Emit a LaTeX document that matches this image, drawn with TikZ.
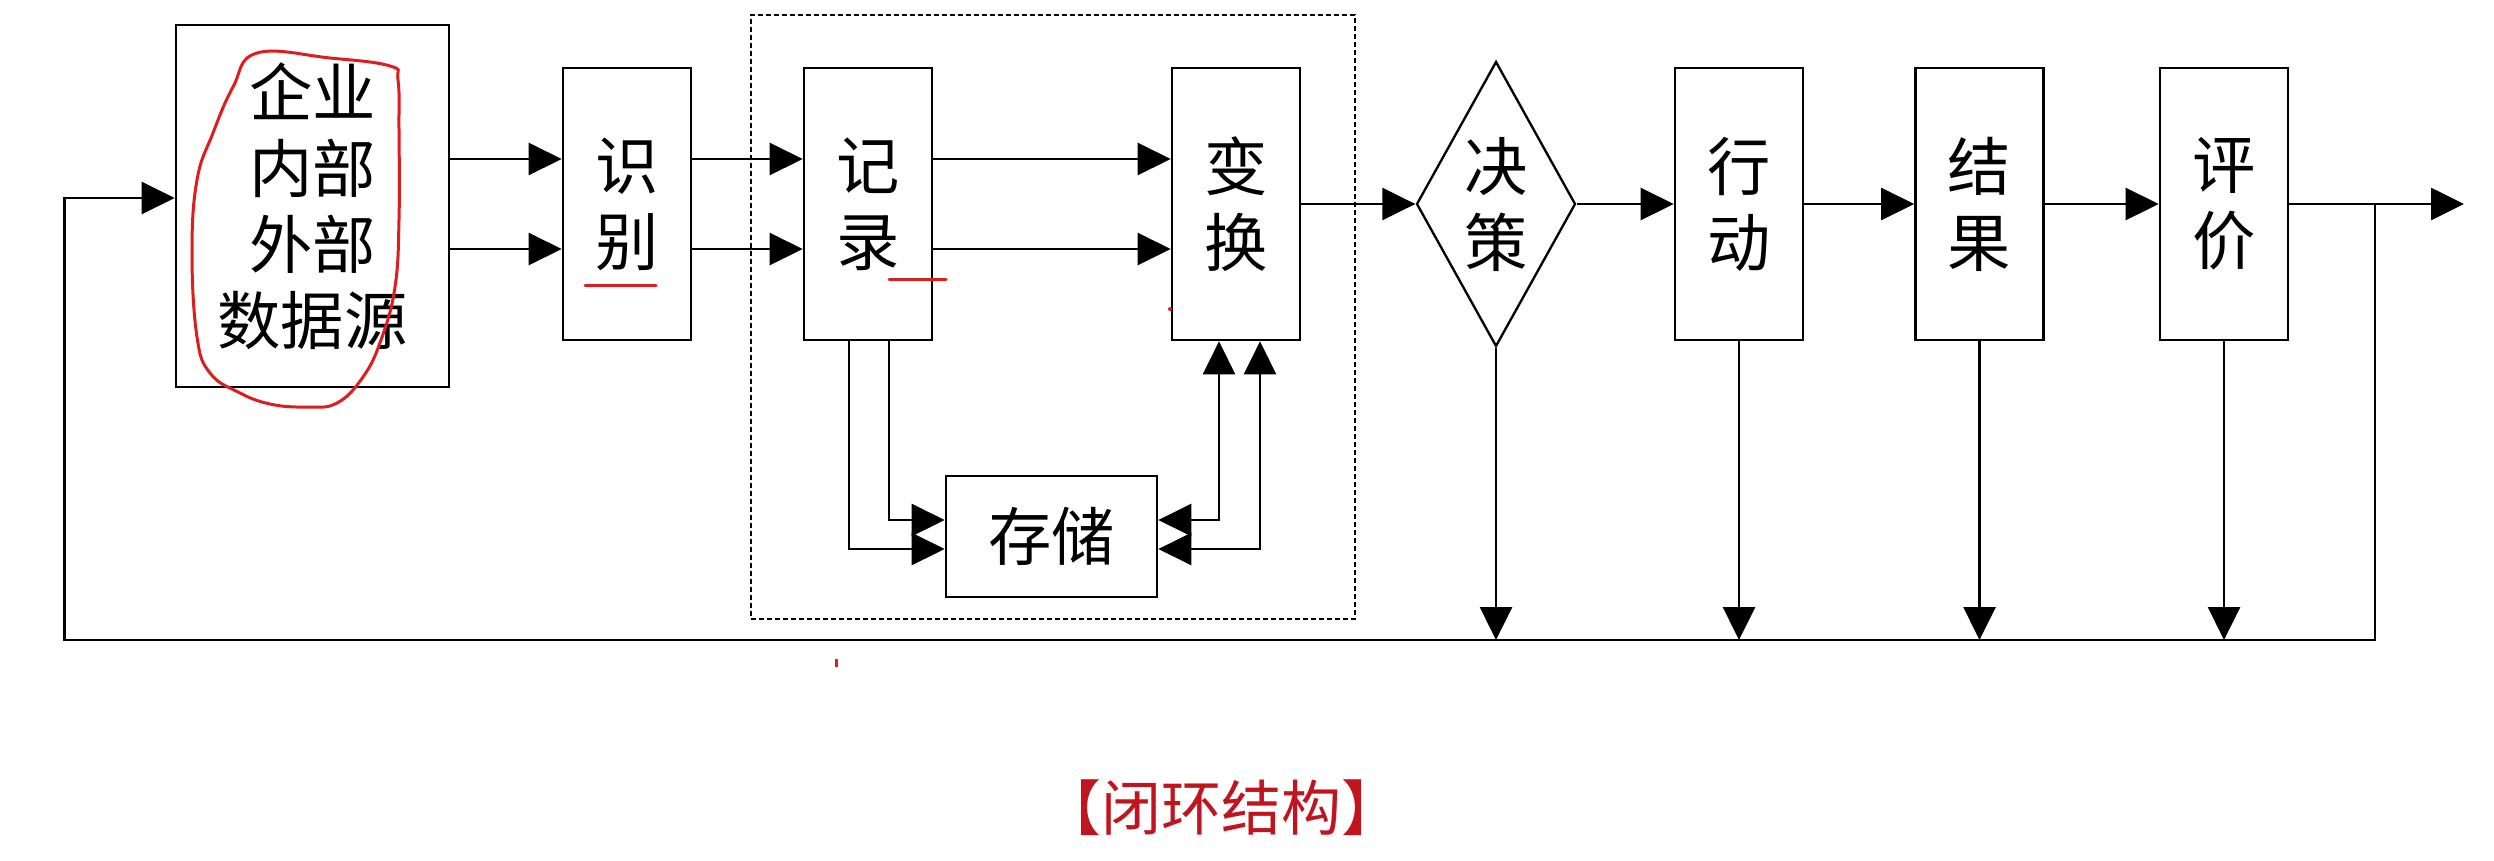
\documentclass[tikz,border=0pt]{standalone}
\usepackage{fontspec}
\newfontfamily\cjk{Noto Sans CJK SC}
\usetikzlibrary{arrows.meta,shapes.geometric}
\definecolor{capred}{RGB}{192,20,30}
\definecolor{penred}{RGB}{220,30,30}
\begin{document}
\begin{tikzpicture}[x=0.3pt,y=-0.3pt,
  every node/.style={font=\cjk\fontsize{19}{22.8}\selectfont},
  box/.style={draw,line width=0.8pt,inner sep=0pt,align=center,minimum width=38.4pt,minimum height=81.6pt},
  srcbox/.style={box,minimum width=81.9pt,minimum height=108.6pt},
  storebox/.style={box,minimum width=63.3pt,minimum height=36.3pt},
  dmd/.style={diamond,draw,line width=0.7pt,inner sep=0pt,minimum width=47.7pt,minimum height=85.5pt},
  grpbox/.style={draw,line width=0.8pt,dash pattern=on 1.5pt off 0.9pt,minimum width=181.2pt,minimum height=181.2pt,inner sep=0pt},
  arr/.style={line width=0.8pt,-{Triangle[length=9.9pt,width=9.6pt]}},
  biarr/.style={line width=0.8pt,{Triangle[length=9.9pt,width=9.6pt]}-{Triangle[length=9.9pt,width=9.6pt]}},
  pen/.style={draw=penred,line width=0.9pt,line cap=round},
]
\useasboundingbox (0,0) rectangle (2494,860);
\fill[white] (0,0) rectangle (2494,860);

% helper coordinates
\coordinate (rowA) at (0,159);
\coordinate (rowB) at (0,249);
\coordinate (rowC) at (0,520);
\coordinate (rowD) at (0,549);
\coordinate (colA) at (849,0);
\coordinate (colB) at (889,0);
\coordinate (colC) at (1219,0);
\coordinate (colD) at (1260,0);
\coordinate (fbL) at (64.6,640);
\coordinate (fbR) at (2375,640);
\coordinate (jn) at (2375,204);
\coordinate (outE) at (2464,204);
\coordinate (fbIn) at (64.6,198);

% nodes
\node[grpbox] (grp) at (1053,317) {};
\node[srcbox] (src) at (312.5,206) {企业\\内部\\外部\\数据源};
\node[box] (sb) at (627,204) {识\\别};
\node[box] (jl) at (868,204) {记\\录};
\node[box] (bh) at (1236,204) {变\\换};
\node[dmd,label={[name=jct,align=center]center:决\\策}] (jc) at (1496,204) {};
\node[box] (xd) at (1739,204) {行\\动};
\node[box] (jg) at (1979.5,204) {结\\果};
\node[box] (pj) at (2224,204) {评\\价};
\node[storebox] (cc) at (1051.5,536.5) {存储};
\node[font=\cjk\fontsize{18}{20}\selectfont,text=capred] (cap) at (1221,808) {【闭环结构】};

% connectors
\foreach \r in {rowA,rowB} {
  \draw[arr] (src.east |- \r) -- (sb.west |- \r);
  \draw[arr] (sb.east |- \r) -- (jl.west |- \r);
  \draw[arr] (jl.east |- \r) -- (bh.west |- \r);
}
\draw[arr] (bh.east) -- (jc.west);
\draw[arr] (jc.east) -- (xd.west);
\draw[arr] (xd.east) -- (jg.west);
\draw[arr] (jg.east) -- (pj.west);
\draw[arr] (pj.east) -- (outE);
\draw[arr] (jl.south -| colA) |- (cc.west |- rowD);
\draw[arr] (jl.south -| colB) |- (cc.west |- rowC);
\draw[biarr] (cc.east |- rowC) -| (bh.south -| colC);
\draw[biarr] (cc.east |- rowD) -| (bh.south -| colD);
\draw[arr] (jn) -- (fbR) -- (fbL) -- (fbIn) -- (src.west |- fbIn);
\foreach \n in {jc,xd,jg,pj} {
  \draw[arr] (\n.south) -- (\n.south |- fbL);
}

% red pen annotations
\draw[pen] plot[smooth cycle,tension=0.7] coordinates {(257,53) (330,58) (390,66) (398,80) (399,130) (399,220) (395,287) (381,340) (363,377) (337,403) (307,407) (270,404) (238,392) (210,373) (197,337) (192,253) (197,180) (213,133) (233,87)};
\draw[pen] (585,285) -- (656,285);
\draw[pen] (889,279) -- (946,279);
\fill[penred] (1170,309) circle (2);
\fill[penred] (835,659) rectangle (838,667);
\end{tikzpicture}
\end{document}
